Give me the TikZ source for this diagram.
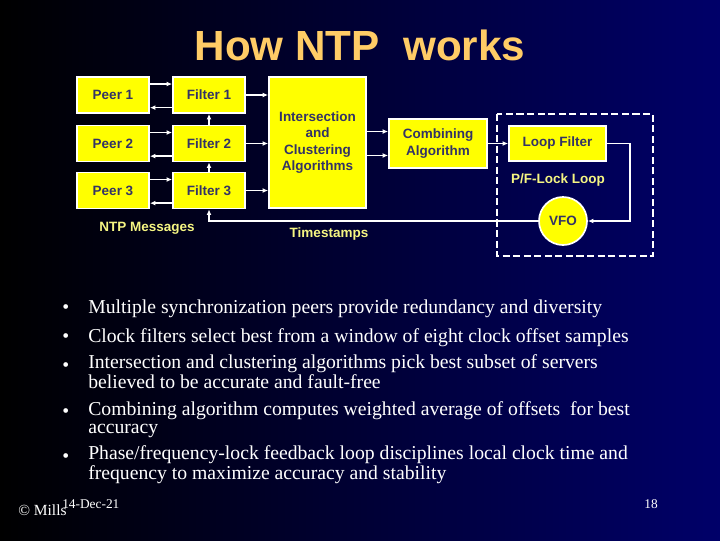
\documentclass[tikz,border=0pt]{standalone}
\usepackage{fontspec}
\setmainfont{Liberation Serif}
\setsansfont{Liberation Sans}
\usepackage{xcolor}
\definecolor{slideNavy}{RGB}{0,0,105}
\definecolor{boxYellow}{RGB}{255,255,0}
\definecolor{boxText}{RGB}{51,51,102}
\definecolor{labelYellow}{RGB}{245,245,130}
\definecolor{titleOrange}{RGB}{255,204,102}
\usetikzlibrary{arrows.meta}
\newcommand{\pxu}{0.025cm}
\begin{document}
\begin{tikzpicture}[x=0.025cm, y=-0.025cm,
  block/.style={draw=white, line width=1.2pt, fill=boxYellow, text=boxText, font=\sffamily\bfseries\fontsize{9.6}{11.5}\selectfont, align=center, inner sep=0pt},
  smallblock/.style={block, minimum width=72*\pxu, minimum height=36*\pxu},
  flow/.style={draw=white, line width=1pt, -{Latex[length=4pt,width=3.5pt]}},
  tag/.style={text=labelYellow, font=\sffamily\bfseries\fontsize{9.6}{11}\selectfont},
  item/.style={anchor=base west, text=white, align=left, inner sep=0pt, font=\fontsize{14}{12.1}\selectfont}]
\shade[left color=black, right color=slideNavy] (0,0) rectangle (720,540);
\useasboundingbox (0,0) rectangle (720,540);
\node[text=titleOrange, font=\sffamily\bfseries\fontsize{30}{32}\selectfont] (title) at (360,45) {How NTP\ \ works};
\node[smallblock] (peer1) at (113,95) {Peer 1};
\node[smallblock] (peer2) at (113,143.5) {Peer 2};
\node[smallblock] (peer3) at (113,190.5) {Peer 3};
\node[smallblock] (filter1) at (209,95) {Filter 1};
\node[smallblock] (filter2) at (209,143.5) {Filter 2};
\node[smallblock] (filter3) at (209,190.5) {Filter 3};
\node[block, minimum width=97*\pxu, minimum height=131*\pxu] (isect) at (317.5,142.5) {Intersection\\and\\Clustering\\Algorithms};
\node[block, minimum width=98*\pxu, minimum height=49*\pxu] (comb) at (438,143.5) {Combining\\Algorithm};
\node[block, minimum width=97*\pxu, minimum height=35*\pxu] (loopf) at (557.5,143.5) {Loop Filter};
\node[block, circle, minimum size=48*\pxu] (vfo) at (563,221) {VFO};
\draw[white, line width=1.2pt, dash pattern=on 5pt off 2.5pt] (497,114) rectangle (653,256);
\node[tag] (msgs) at (147,228) {NTP Messages};
\node[tag] (stamps) at (329,234) {Timestamps};
\node[tag] (pfl) at (558,180) {P/F-Lock Loop};
\foreach \i in {1,2,3} {
  \draw[flow] ([yshift=7.8pt]peer\i.east) -- ([yshift=7.8pt]filter\i.west);
  \draw[flow] ([yshift=-9pt]filter\i.west) -- ([yshift=-9pt]peer\i.east);
  \draw[flow] (filter\i.east) -- (filter\i.east -| isect.west);
}
\draw[flow] (filter2) -- (filter1);
\draw[flow] (filter3) -- (filter2);
\draw[flow] ([yshift=8.5pt]comb.west -| isect.east) -- ([yshift=8.5pt]comb.west);
\draw[flow] ([yshift=-8.5pt]comb.west -| isect.east) -- ([yshift=-8.5pt]comb.west);
\draw[flow] (comb) -- (loopf);
\coordinate (loopc) at (630,143.5);
\draw[flow] (loopf.east) -- (loopc) |- (vfo.east);
\draw[flow] (vfo.west) -| (filter3.south);
\node[item] (dot1) at (62,313) {\textbullet};
\node[item] (dot2) at (62,342) {\textbullet};
\node[item] (dot3) at (62,371) {\textbullet};
\node[item] (dot4) at (62,417) {\textbullet};
\node[item] (dot5) at (62,462) {\textbullet};
\node[item] (line1) at (88,313) {Multiple synchronization peers provide redundancy and diversity};
\node[item] (line2) at (88,342) {Clock filters select best from a window of eight clock offset samples};
\node[item] (line3) at (88,388) {Intersection and clustering algorithms pick best subset of servers\\believed to be accurate and fault-free};
\node[item] (line4) at (88,433) {Combining algorithm computes weighted average of offsets\ \ for best\\accuracy};
\node[item] (line5) at (88,479) {Phase/frequency-lock feedback loop disciplines local clock time and\\frequency to maximize accuracy and stability};
\node[anchor=base west, text=white, inner sep=0pt, font=\fontsize{11}{12}\selectfont] (mills) at (18,515) {\textcopyright{} Mills};
\node[anchor=base west, text=white, inner sep=0pt, font=\fontsize{9.5}{11}\selectfont] (date) at (62,508) {14-Dec-21};
\node[anchor=base, text=white, inner sep=0pt, font=\fontsize{9.5}{11}\selectfont] (page) at (651,508) {18};
\end{tikzpicture}
\end{document}
